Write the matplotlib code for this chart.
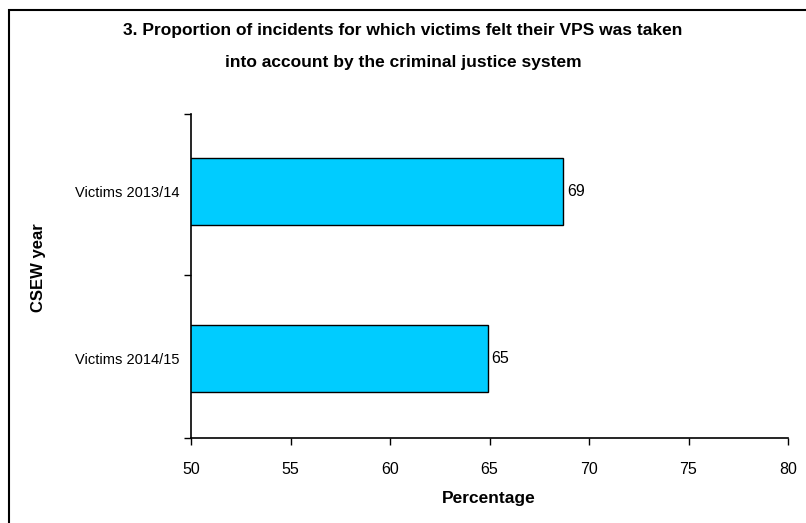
import matplotlib
matplotlib.use("Agg")
import matplotlib.pyplot as plt
from matplotlib.patches import Rectangle

categories = ["Victims 2014/15", "Victims 2013/14"]
values = [64.9, 68.7]
labels = ["65", "69"]
xticks = [50, 55, 60, 65, 70, 75, 80]

plt.rcParams['font.family'] = ['Liberation Sans', 'DejaVu Sans']

fig = plt.figure(figsize=(8.06, 5.23), dpi=100)
W, H = 806, 523
ax = fig.add_axes([191 / W, 1 - 438 / H, (788 - 191) / W, (438 - 114) / H])

pos = list(range(len(categories)))
bars = ax.barh(pos, values, height=0.40, left=0, color="#00CCFF",
               edgecolor="black", linewidth=1.0)
ylo, yhi = -0.472, len(categories) - 1 + 0.46
ax.set_xlim(50, 80)
ax.set_ylim(ylo, yhi)
ax.set_xticks(xticks)
ax.set_xticklabels([str(t) for t in xticks], fontsize=11.5)
ax.set_yticks(pos)
ax.set_yticklabels(categories, fontsize=10.5)
ax.set_yticks([ylo] + [p + 0.5 for p in pos[:-1]] + [yhi], minor=True)
ax.tick_params(axis="y", which="major", length=0, pad=8)
ax.tick_params(axis="y", which="minor", length=5, direction="out", width=1)
ax.tick_params(axis="x", length=5, direction="out", width=1, pad=12)
for s in ["top", "right"]:
    ax.spines[s].set_visible(False)
for s in ["left", "bottom"]:
    ax.spines[s].set_linewidth(1.2)

for b, lab in zip(bars, labels):
    ax.annotate(lab, (b.get_width(), b.get_y() + b.get_height() / 2),
                xytext=(3, 0), textcoords="offset points",
                ha="left", va="center", fontsize=11.5)

fig.text(489 / W, 1 - 499 / H, "Percentage", ha="center", va="center",
         fontsize=12.5, fontweight="bold")
fig.text(39 / W, 1 - 268 / H, "CSEW year", ha="center", va="center",
         rotation=90, fontsize=12, fontweight="bold")

fig.text(0.5, 1 - 31 / H, "3. Proportion of incidents for which victims felt their VPS was taken",
         ha="center", va="center", fontsize=12.5, fontweight="bold")
fig.text(0.5, 1 - 62 / H, "into account by the criminal justice system",
         ha="center", va="center", fontsize=12.5, fontweight="bold")

fig.patches.append(Rectangle((8.5 / W, -0.1), 1.2, 1 - 10 / H + 0.1,
                             transform=fig.transFigure, fill=False,
                             edgecolor="black", linewidth=1.5))

fig.savefig("out.png", dpi=100)
